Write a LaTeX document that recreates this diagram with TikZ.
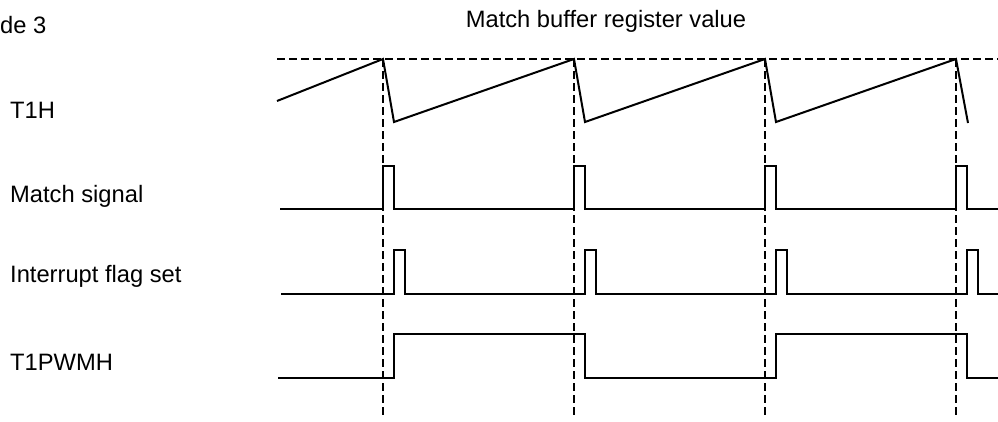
\documentclass[tikz,border=0pt]{standalone}
\usepackage{fontspec}
\setmainfont{Liberation Sans}
\usetikzlibrary{positioning,calc}

\begin{document}
\begin{tikzpicture}[x=1bp, y=-1bp, line join=miter,
  wave/.style={line width=2bp},
  guide/.style={line width=2bp, dash pattern=on 8bp off 4bp},
  lbl/.style={anchor=base west, inner sep=0pt, font=\fontsize{23.8}{28}\selectfont}]
\useasboundingbox (0,0) rectangle (998,421);
% match instants on the top line
\coordinate (t1)  at (383,59);
\coordinate (t2)  at (574,59);
\coordinate (t3)  at (765,59);
\coordinate (t4)  at (956,59);
\coordinate (bot) at (0,417);
% labels
\node[lbl]              (mode) at (0,33)    {de 3};
\node[lbl, anchor=base] (mbr)  at (606,27)  {Match buffer register value};
\node[lbl]              (t1h)  at (10,118)  {T1H};
\node[lbl]              (msig) at (10,202)  {Match signal};
\node[lbl]              (iflg) at (10,282)  {Interrupt flag set};
\node[lbl]              (pwm)  at (10,370)  {T1PWMH};
% guide lines
\draw[guide] (277,59) -- (998,59);
\draw[guide] (t1) -- (t1 |- bot);
\draw[guide] (t2) -- (t2 |- bot);
\draw[guide] (t3) -- (t3 |- bot);
\draw[guide] (t4) -- (t4 |- bot);
% T1H counter
\draw[wave] (277,101) -- (t1) -- ++(11,63) -- (t2) -- ++(11,63) -- (t3) -- ++(11,63) -- (t4) -- ++(12,64);
% match signal
\draw[wave] (280,209) -- (383,209) |- (394,166) |- (574,209) |- (585,166) |- (765,209)
  |- (776,166) |- (956,209) |- (967,166) |- (998,209);
% interrupt flag
\draw[wave] (281,294) -- (394,294) |- (405,250) |- (585,294) |- (596,250) |- (776,294)
  |- (787,250) |- (967,294) |- (978,250) |- (998,294);
% T1PWMH output
\draw[wave] (278,378) -- (394,378) |- (585,334) |- (776,378) |- (967,334) |- (998,378);
\end{tikzpicture}
\end{document}
